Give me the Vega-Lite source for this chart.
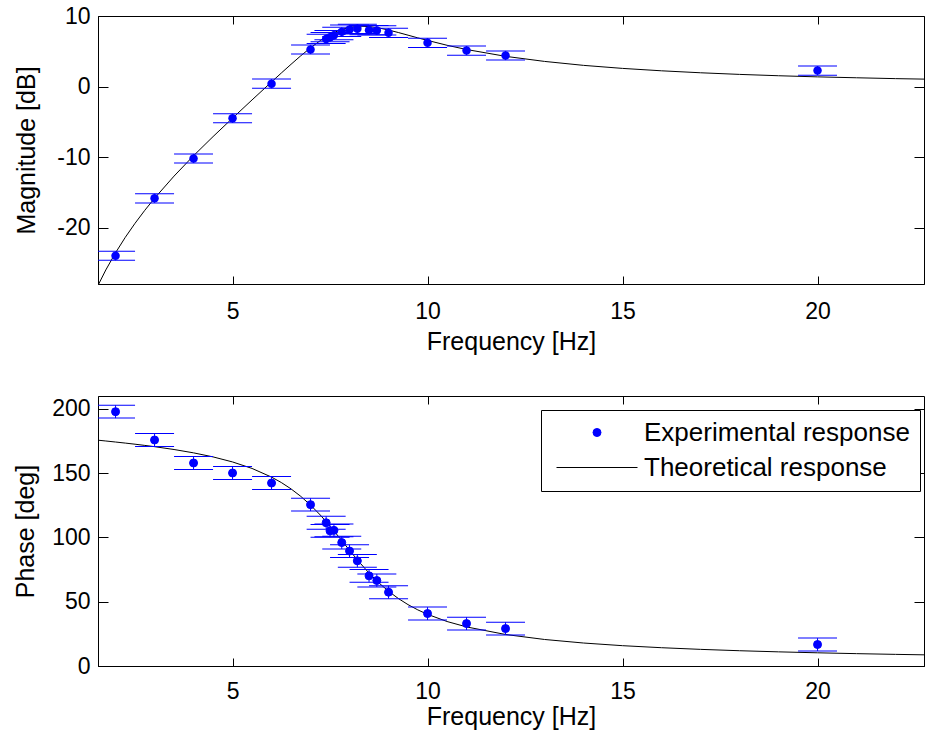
{
  "$schema": "https://vega.github.io/schema/vega-lite/v6.json",
  "padding": {"left": 12, "top": 4, "right": 0, "bottom": 0},
  "background": "white",
  "config": {
    "font": "Liberation Sans",
    "view": {"stroke": "black", "strokeWidth": 1},
    "axis": {"grid": false, "domainColor": "black", "tickColor": "black", "labelColor": "black", "titleColor": "black", "labelFontSize": 23, "titleFontSize": 25, "titleFontWeight": "normal", "tickWidth": 1, "domainWidth": 1, "labelFont": "Liberation Sans", "titleFont": "Liberation Sans", "labelFlush": false, "labelOverlap": false}
  },
  "datasets": {
    "pts": [
      {"f": 2, "mag": -24.0, "mag_lo": -24.65, "mag_hi": -23.35, "ph": 197.8, "ph_lo": 192.8, "ph_hi": 202.8},
      {"f": 3, "mag": -15.85, "mag_lo": -16.5, "mag_hi": -15.2, "ph": 175.8, "ph_lo": 170.8, "ph_hi": 180.8},
      {"f": 4, "mag": -10.2, "mag_lo": -10.85, "mag_hi": -9.55, "ph": 157.9, "ph_lo": 152.9, "ph_hi": 162.9},
      {"f": 5, "mag": -4.5, "mag_lo": -5.15, "mag_hi": -3.85, "ph": 150.1, "ph_lo": 145.1, "ph_hi": 155.1},
      {"f": 6, "mag": 0.4, "mag_lo": -0.25, "mag_hi": 1.05, "ph": 142.3, "ph_lo": 137.3, "ph_hi": 147.3},
      {"f": 7, "mag": 5.25, "mag_lo": 4.6, "mag_hi": 5.9, "ph": 125.5, "ph_lo": 120.5, "ph_hi": 130.5},
      {"f": 7.4, "mag": 6.75, "mag_lo": 6.1, "mag_hi": 7.4, "ph": 111.4, "ph_lo": 106.4, "ph_hi": 116.4},
      {"f": 7.5, "mag": 7.0, "mag_lo": 6.35, "mag_hi": 7.65, "ph": 105.1, "ph_lo": 100.1, "ph_hi": 110.1},
      {"f": 7.6, "mag": 7.28, "mag_lo": 6.63, "mag_hi": 7.93, "ph": 105.5, "ph_lo": 100.5, "ph_hi": 110.5},
      {"f": 7.8, "mag": 7.75, "mag_lo": 7.1, "mag_hi": 8.4, "ph": 96.0, "ph_lo": 91.0, "ph_hi": 101.0},
      {"f": 8.0, "mag": 8.09, "mag_lo": 7.44, "mag_hi": 8.74, "ph": 89.4, "ph_lo": 84.4, "ph_hi": 94.4},
      {"f": 8.2, "mag": 8.18, "mag_lo": 7.53, "mag_hi": 8.83, "ph": 81.8, "ph_lo": 76.8, "ph_hi": 86.8},
      {"f": 8.5, "mag": 7.99, "mag_lo": 7.34, "mag_hi": 8.64, "ph": 70.1, "ph_lo": 65.1, "ph_hi": 75.1},
      {"f": 8.7, "mag": 7.95, "mag_lo": 7.3, "mag_hi": 8.6, "ph": 66.5, "ph_lo": 61.5, "ph_hi": 71.5},
      {"f": 9.0, "mag": 7.61, "mag_lo": 6.96, "mag_hi": 8.26, "ph": 57.4, "ph_lo": 52.4, "ph_hi": 62.4},
      {"f": 10, "mag": 6.2, "mag_lo": 5.55, "mag_hi": 6.85, "ph": 40.8, "ph_lo": 35.8, "ph_hi": 45.8},
      {"f": 11, "mag": 5.1, "mag_lo": 4.45, "mag_hi": 5.75, "ph": 33.0, "ph_lo": 28.0, "ph_hi": 38.0},
      {"f": 12, "mag": 4.4, "mag_lo": 3.75, "mag_hi": 5.05, "ph": 29.1, "ph_lo": 24.1, "ph_hi": 34.1},
      {"f": 20, "mag": 2.26, "mag_lo": 1.61, "mag_hi": 2.91, "ph": 16.7, "ph_lo": 11.7, "ph_hi": 21.7}
    ],
    "curve": [
      {"f": 1.55, "mag": -28.20, "ph": 175.63},
      {"f": 1.75, "mag": -26.01, "ph": 175.01},
      {"f": 2, "mag": -23.57, "ph": 174.21},
      {"f": 2.25, "mag": -21.38, "ph": 173.38},
      {"f": 2.5, "mag": -19.39, "ph": 172.50},
      {"f": 2.75, "mag": -17.55, "ph": 171.57},
      {"f": 3, "mag": -15.84, "ph": 170.59},
      {"f": 3.5, "mag": -12.70, "ph": 168.38},
      {"f": 4, "mag": -9.81, "ph": 165.78},
      {"f": 4.5, "mag": -7.10, "ph": 162.64},
      {"f": 5, "mag": -4.48, "ph": 158.71},
      {"f": 5.5, "mag": -1.90, "ph": 153.65},
      {"f": 6, "mag": 0.65, "ph": 146.92},
      {"f": 6.25, "mag": 1.91, "ph": 142.70},
      {"f": 6.5, "mag": 3.15, "ph": 137.74},
      {"f": 6.75, "mag": 4.36, "ph": 131.94},
      {"f": 7, "mag": 5.49, "ph": 125.18},
      {"f": 7.25, "mag": 6.51, "ph": 117.43},
      {"f": 7.5, "mag": 7.37, "ph": 108.77},
      {"f": 7.75, "mag": 8.01, "ph": 99.49},
      {"f": 8, "mag": 8.40, "ph": 90.0},
      {"f": 8.25, "mag": 8.56, "ph": 80.80},
      {"f": 8.5, "mag": 8.51, "ph": 72.29},
      {"f": 8.75, "mag": 8.31, "ph": 64.72},
      {"f": 9, "mag": 8.01, "ph": 58.15},
      {"f": 9.25, "mag": 7.66, "ph": 52.52},
      {"f": 9.5, "mag": 7.28, "ph": 47.73},
      {"f": 9.75, "mag": 6.90, "ph": 43.66},
      {"f": 10, "mag": 6.54, "ph": 40.18},
      {"f": 10.5, "mag": 5.85, "ph": 34.61},
      {"f": 11, "mag": 5.25, "ph": 30.40},
      {"f": 12, "mag": 4.28, "ph": 24.51},
      {"f": 13, "mag": 3.56, "ph": 20.63},
      {"f": 14, "mag": 3.00, "ph": 17.87},
      {"f": 15, "mag": 2.57, "ph": 15.81},
      {"f": 16, "mag": 2.23, "ph": 14.22},
      {"f": 17, "mag": 1.95, "ph": 12.94},
      {"f": 18, "mag": 1.72, "ph": 11.88},
      {"f": 19, "mag": 1.53, "ph": 11.01},
      {"f": 20, "mag": 1.37, "ph": 10.26},
      {"f": 21, "mag": 1.24, "ph": 9.61},
      {"f": 22, "mag": 1.12, "ph": 9.05},
      {"f": 22.73, "mag": 1.05, "ph": 8.68}
    ]
  },
  "bounds": "flush",
  "spacing": 112,
  "vconcat": [
    {
      "width": 826,
      "height": 268,
      "resolve": {"axis": {"x": "independent", "y": "independent"}},
      "layer": [
        {
          "data": {"name": "curve"},
          "mark": {"type": "line", "color": "black", "strokeWidth": 1, "clip": true},
          "encoding": {
            "x": {"field": "f", "type": "quantitative", "scale": {"domain": [1.55, 22.73], "nice": false, "zero": false}, "axis": {"orient": "top", "values": [5, 10, 15, 20], "labels": false, "title": null, "domain": false, "tickSize": -8}},
            "y": {"field": "mag", "type": "quantitative", "scale": {"domain": [-28, 10], "nice": false, "zero": false}, "axis": {"orient": "right", "values": [-20, -10, 0, 10], "labels": false, "title": null, "domain": false, "tickSize": -10}}
          }
        },
        {
          "data": {"name": "pts"},
          "mark": {"type": "rule", "color": "#0000ff", "strokeWidth": 1, "clip": true},
          "encoding": {
            "x": {"field": "f", "type": "quantitative", "axis": null},
            "y": {"field": "mag_lo", "type": "quantitative", "axis": null},
            "y2": {"field": "mag_hi"}
          }
        },
        {
          "data": {"name": "pts"},
          "mark": {"type": "tick", "orient": "horizontal", "size": 39, "thickness": 1, "color": "#0000ff", "opacity": 1, "clip": true},
          "encoding": {
            "x": {"field": "f", "type": "quantitative", "axis": null},
            "y": {"field": "mag_lo", "type": "quantitative", "axis": null}
          }
        },
        {
          "data": {"name": "pts"},
          "mark": {"type": "tick", "orient": "horizontal", "size": 39, "thickness": 1, "color": "#0000ff", "opacity": 1, "clip": true},
          "encoding": {
            "x": {"field": "f", "type": "quantitative", "axis": null},
            "y": {"field": "mag_hi", "type": "quantitative", "axis": null}
          }
        },
        {
          "data": {"name": "pts"},
          "mark": {"type": "point", "filled": true, "shape": "circle", "size": 72, "color": "#0000ff", "opacity": 1, "clip": true},
          "encoding": {
            "x": {"field": "f", "type": "quantitative", "axis": {"orient": "bottom", "values": [5, 10, 15, 20], "tickSize": -8, "labelPadding": 24, "title": "Frequency [Hz]", "titleY": 65, "titleBaseline": "alphabetic"}},
            "y": {"field": "mag", "type": "quantitative", "axis": {"orient": "left", "values": [-20, -10, 0, 10], "labelExpr": "'' + datum.value", "tickSize": -10, "labelPadding": 18, "title": "Magnitude [dB]", "titleX": -64, "titleBaseline": "alphabetic", "titleAngle": -90}}
          }
        }
      ]
    },
    {
      "width": 826,
      "height": 270,
      "resolve": {"axis": {"x": "independent", "y": "independent"}},
      "layer": [
        {
          "data": {"name": "curve"},
          "mark": {"type": "line", "color": "black", "strokeWidth": 1, "clip": true},
          "encoding": {
            "x": {"field": "f", "type": "quantitative", "scale": {"domain": [1.55, 22.73], "nice": false, "zero": false}, "axis": {"orient": "top", "values": [5, 10, 15, 20], "labels": false, "title": null, "domain": false, "tickSize": -8}},
            "y": {"field": "ph", "type": "quantitative", "scale": {"domain": [0, 210], "nice": false, "zero": false}, "axis": {"orient": "right", "values": [0, 50, 100, 150, 200], "labels": false, "title": null, "domain": false, "tickSize": -10}}
          }
        },
        {
          "data": {"name": "pts"},
          "mark": {"type": "rule", "color": "#0000ff", "strokeWidth": 1, "clip": true},
          "encoding": {
            "x": {"field": "f", "type": "quantitative", "axis": null},
            "y": {"field": "ph_lo", "type": "quantitative", "axis": null},
            "y2": {"field": "ph_hi"}
          }
        },
        {
          "data": {"name": "pts"},
          "mark": {"type": "tick", "orient": "horizontal", "size": 39, "thickness": 1, "color": "#0000ff", "opacity": 1, "clip": true},
          "encoding": {
            "x": {"field": "f", "type": "quantitative", "axis": null},
            "y": {"field": "ph_lo", "type": "quantitative", "axis": null}
          }
        },
        {
          "data": {"name": "pts"},
          "mark": {"type": "tick", "orient": "horizontal", "size": 39, "thickness": 1, "color": "#0000ff", "opacity": 1, "clip": true},
          "encoding": {
            "x": {"field": "f", "type": "quantitative", "axis": null},
            "y": {"field": "ph_hi", "type": "quantitative", "axis": null}
          }
        },
        {
          "data": {"name": "pts"},
          "mark": {"type": "point", "filled": true, "strokeWidth": 1, "opacity": 1, "clip": true},
          "encoding": {
            "x": {"field": "f", "type": "quantitative", "axis": {"orient": "bottom", "values": [5, 10, 15, 20], "tickSize": -8, "labelPadding": 22, "title": "Frequency [Hz]", "titleY": 58, "titleBaseline": "alphabetic"}},
            "y": {"field": "ph", "type": "quantitative", "axis": {"orient": "left", "values": [0, 50, 100, 150, 200], "tickSize": -10, "labelPadding": 18, "title": "Phase [deg]", "titleX": -65, "titleBaseline": "alphabetic", "titleAngle": -90}},
            "color": {
              "datum": "Experimental response", "type": "nominal",
              "scale": {"domain": ["Experimental response", "Theoretical response"], "range": ["#0000ff", "#000000"]},
              "legend": {"title": null, "orient": "none", "legendX": 443, "legendY": 394, "padding": 10, "strokeColor": "black", "fillColor": "white", "cornerRadius": 0, "labelFontSize": 26, "labelColor": "black", "labelFont": "Liberation Sans", "labelLimit": 500, "symbolOffset": 5, "labelOffset": 6, "rowPadding": 8, "clipHeight": 25, "symbolStrokeWidth": 1, "symbolOpacity": 1}
            },
            "stroke": {
              "datum": "Experimental response", "type": "nominal",
              "scale": {"domain": ["Experimental response", "Theoretical response"], "range": ["#0000ff", "#000000"]},
              "legend": {"title": null, "orient": "none", "legendX": 443, "legendY": 394, "padding": 10, "strokeColor": "black", "fillColor": "white", "cornerRadius": 0, "labelFontSize": 26, "labelColor": "black", "labelFont": "Liberation Sans", "labelLimit": 500, "symbolOffset": 5, "labelOffset": 6, "rowPadding": 8, "clipHeight": 25, "symbolStrokeWidth": 1, "symbolOpacity": 1}
            },
            "shape": {
              "datum": "Experimental response", "type": "nominal",
              "scale": {"domain": ["Experimental response", "Theoretical response"], "range": ["circle", "stroke"]},
              "legend": {"title": null, "orient": "none", "legendX": 443, "legendY": 394, "padding": 10, "strokeColor": "black", "fillColor": "white", "cornerRadius": 0, "labelFontSize": 26, "labelColor": "black", "labelFont": "Liberation Sans", "labelLimit": 500, "symbolOffset": 5, "labelOffset": 6, "rowPadding": 8, "clipHeight": 25, "symbolStrokeWidth": 1, "symbolOpacity": 1}
            },
            "size": {
              "datum": "Experimental response", "type": "nominal",
              "scale": {"type": "point", "padding": 0, "domain": ["Experimental response", "Theoretical response"], "range": [64, 6561]},
              "legend": {"title": null, "orient": "none", "legendX": 443, "legendY": 394, "padding": 10, "strokeColor": "black", "fillColor": "white", "cornerRadius": 0, "labelFontSize": 26, "labelColor": "black", "labelFont": "Liberation Sans", "labelLimit": 500, "symbolOffset": 5, "labelOffset": 6, "rowPadding": 8, "clipHeight": 25, "symbolStrokeWidth": 1, "symbolOpacity": 1}
            }
          }
        }
      ]
    }
  ]
}
